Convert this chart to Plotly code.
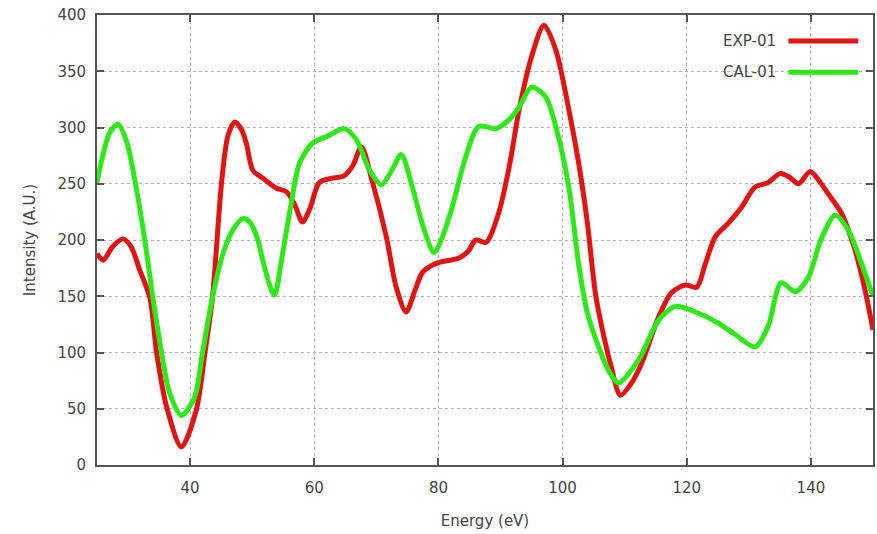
import plotly.graph_objects as go

# Measured spectrum (EXP-01)
exp_energy = [25, 26, 27.5, 29.2, 30.5, 31.9, 33.5, 34.6, 36.2, 38.6, 41, 42.4,
              43.6, 45.1, 46.1, 47.2, 48.3, 49.1, 50.1, 51.7, 53.9, 55.5, 56.8, 58.1, 59.3,
              60.8, 62.9, 64.8, 66.2, 67.6, 69.3, 71.6, 73.2, 74.8, 76.2, 77.4, 78.8, 80.1,
              83.3, 84.8, 86, 87.7, 89.7, 91.4, 93, 95, 97, 98.9, 101, 102.6, 104, 105.3,
              106.5, 107.8, 109.3, 111, 112.7, 115.5, 117.5, 119.8, 121.6, 123, 124.6, 126.7,
              128.8, 131, 133.1, 135, 136.5, 138, 139.9, 141.4, 142.8, 144.9, 147.1, 148.7, 150]
exp_intensity = [188, 182, 194, 201, 194, 173, 149, 100, 52, 16, 49, 100,
                 149, 253, 293, 305, 298, 285, 262, 255, 246, 243, 232, 216, 228,
                 251, 255, 257, 266, 283, 253, 203, 158, 136, 155, 171, 177, 180,
                 184, 190, 200, 198, 224, 265, 316, 363, 391, 369, 316, 268, 215, 152,
                 118, 88, 62, 72, 90, 132, 153, 160, 158, 179, 203, 215,
                 229, 247, 251, 259, 256, 250, 261, 252, 241, 224, 191, 156, 120]

# Calculated spectrum (CAL-01)
cal_energy = [25, 25.8, 27, 28.4, 29.8, 31.1, 32.7, 34, 35.4, 36.7, 38.6, 40.7, 42,
              43.6, 45.3, 46.9, 48.5, 49.6, 50.8, 51.7, 52.8, 53.6, 54.9, 56.3,
              57.6, 59.7, 62.4, 64.8, 66.8, 68.9, 70.8, 72.5, 74, 75.8, 77.7, 79.3, 80.8,
              82.2, 84.4, 86.5, 89.3, 91.4, 93, 95, 97.3, 98.9, 101, 102.6, 104, 105.8,
              107.5, 109, 112.2, 115.5, 118.2, 121.4, 125.1, 127.8, 131, 133.1, 135.2, 137.5,
              139.6, 141.6, 143.9, 146, 148.1, 150]
cal_intensity = [251, 272, 295, 303, 287, 253, 200, 149, 100, 64, 44, 60, 100,
                 149, 188, 209, 219, 216, 202, 182, 160, 151, 188, 233,
                 268, 286, 293, 299, 289, 262, 249, 262, 276, 247, 209, 189, 205,
                 229, 274, 301, 299, 307, 318, 336, 327, 301, 247, 178, 135, 105,
                 83, 73, 93, 129, 141, 136, 126, 116, 105, 123, 162, 154,
                 167, 200, 222, 209, 180, 150]

x_ticks = [40, 60, 80, 100, 120, 140]
y_ticks = [0, 50, 100, 150, 200, 250, 300, 350, 400]

RED = "#e11414"
GREEN = "#2ee81a"
AXIS = "#555555"
TEXT = "#444444"
FONT = "DejaVu Sans"

fig = go.Figure()
fig.add_trace(go.Scatter(x=exp_energy, y=exp_intensity, mode="lines", name="EXP-01",
                         line=dict(color=RED, width=5, shape="spline", smoothing=0.8)))
fig.add_trace(go.Scatter(x=cal_energy, y=cal_intensity, mode="lines", name="CAL-01",
                         line=dict(color=GREEN, width=5, shape="spline", smoothing=0.8)))

axis_common = dict(
    showline=True, linecolor=AXIS, linewidth=1.8, mirror="ticks",
    ticks="inside", ticklen=7, tickwidth=1.8, tickcolor=AXIS,
    showgrid=True, gridcolor="#b0b0b0", griddash="dot", gridwidth=1,
    zeroline=False, tickfont=dict(family=FONT, size=15, color=TEXT),
)

fig.update_xaxes(range=[25, 150], tickvals=x_ticks, ticklabelstandoff=8,
                 title=dict(text="Energy (eV)", font=dict(family=FONT, size=15, color=TEXT),
                            standoff=20),
                 **axis_common)
fig.update_yaxes(range=[0, 400], tickvals=y_ticks, ticklabelstandoff=6,
                 title=dict(text="Intensity (A.U.)", font=dict(family=FONT, size=15, color=TEXT),
                            standoff=18),
                 **axis_common)

# Key in the upper-right corner: label first, then the line sample
key = [("EXP-01", RED, 0.942), ("CAL-01", GREEN, 0.873)]
for label, color, ky in key:
    fig.add_annotation(xref="paper", yref="paper", x=0.878, y=ky, text=label,
                       showarrow=False, xanchor="right", yanchor="middle",
                       font=dict(family=FONT, size=15, color=TEXT))
    fig.add_shape(type="line", xref="paper", yref="paper", x0=0.891, x1=0.981,
                  y0=ky, y1=ky, line=dict(color=color, width=5))

fig.update_layout(
    width=877, height=534,
    margin=dict(l=97, r=2, t=15, b=69),
    paper_bgcolor="white", plot_bgcolor="white",
    showlegend=False,
)

fig.write_html("out.html")
